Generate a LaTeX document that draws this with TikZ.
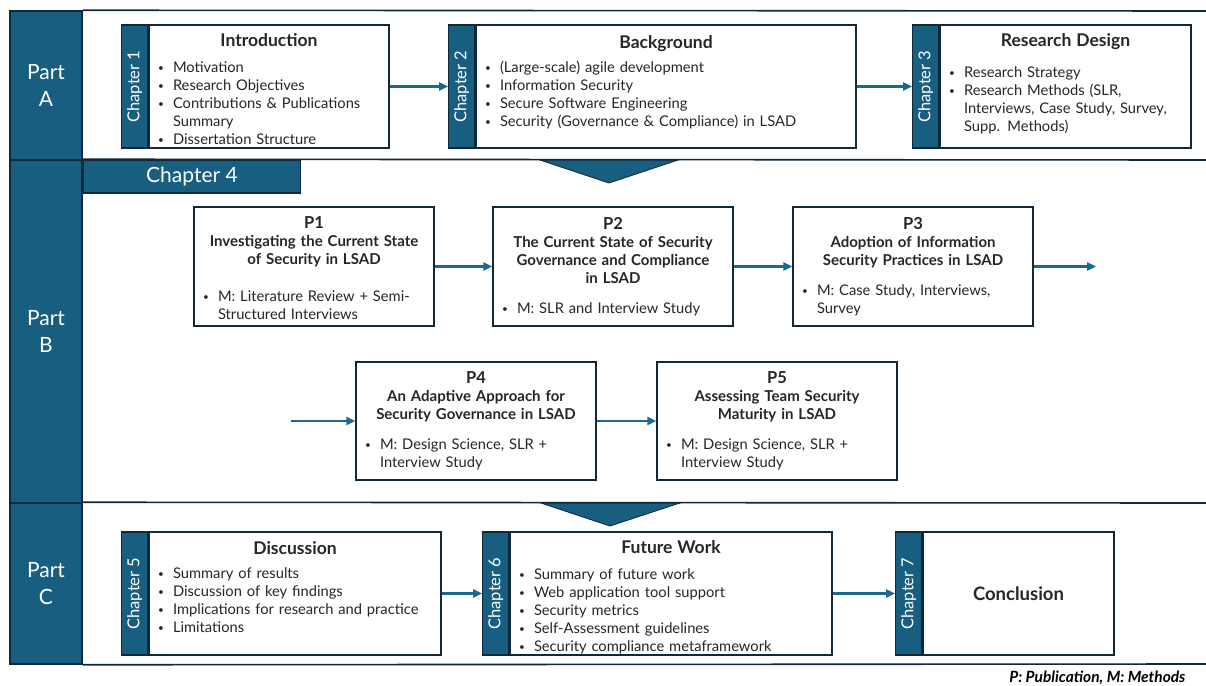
\documentclass[tikz,border=0pt]{standalone}
\usepackage{fontspec}
\setmainfont{Lato}
\usetikzlibrary{arrows.meta,positioning,calc}
\definecolor{partblue}{RGB}{24,94,128}
\definecolor{arrblue}{RGB}{28,104,142}
\definecolor{navy}{RGB}{16,40,56}
\definecolor{txtgray}{RGB}{38,38,38}

\newcommand{\fs}[2]{\fontsize{#1}{#2}\selectfont}
\newcommand{\boxtitle}[1]{{\centering\fs{17.5}{20}\bfseries #1\par}\vspace{6pt}}
\newcommand{\ptitle}[2]{{\centering\bfseries{\fs{16.5}{21}#1\par}\fs{15}{18}#2\par}\vspace{12pt}}
\newenvironment{blist}{\begin{list}{\raisebox{1pt}{\fs{10}{10}\textbullet}}{%
  \setlength{\leftmargin}{15pt}\setlength{\labelwidth}{15pt}\setlength{\labelsep}{0pt}%
  \setlength{\itemsep}{0pt}\setlength{\parsep}{0pt}\setlength{\topsep}{0pt}%
  \setlength{\partopsep}{0pt}\setlength{\itemindent}{0pt}%
  \renewcommand{\makelabel}[1]{##1\hfil}}\raggedright}{\end{list}}

\tikzset{
  partcol/.style={draw=navy, line width=1.5pt, fill=partblue, text=white, align=center, inner sep=0pt, font=\fs{21}{27}},
  tab/.style={draw=navy, line width=1.2pt, fill=partblue, text=white, rotate=90, anchor=south,
    minimum width=123pt, minimum height=26pt, inner sep=0pt, font=\fs{16.5}{18}},
  chbox/.style={draw=navy, line width=1.2pt, fill=white, text=txtgray, minimum height=123pt,
    inner xsep=9pt, inner ysep=2pt, align=left, font=\fs{14.7}{18}},
  pbox/.style={draw=navy, line width=1.2pt, fill=white, text=txtgray, minimum height=119pt,
    text width=222pt, inner xsep=9pt, inner ysep=2pt, align=left, font=\fs{14.7}{18}},
  arr/.style={-{Triangle[length=9pt,width=8pt]}, line width=2.4pt, arrblue},
  frame/.style={navy, line width=1.6pt},
  chevron/.style={fill=partblue, draw=navy, line width=0.8pt},
}

\begin{document}
\begin{tikzpicture}[x=1pt,y=-1pt]
\useasboundingbox (0,0) rectangle (1206,685);

% chevrons between the parts
\filldraw[chevron] (540,160) -- (678,160) -- (609,183) -- cycle;
\filldraw[chevron] (541,503) -- (680,503) -- (610,526) -- cycle;

% part column
\node[partcol, minimum width=72pt, minimum height=149pt] (partA) at (46,85.5) {Part\\A};
\node[partcol, minimum width=72pt, minimum height=343pt] (partB) at (46,331.5) {Part\\B};
\node[partcol, minimum width=72pt, minimum height=161pt] (partC) at (46,583.5) {Part\\C};

\draw[frame] (partA.north east) -- (1206,11);
\draw[frame] (partB.north east) -- (1206,160);
\draw[frame] (partC.north east) -- (1206,503);
\draw[frame] (partC.south east) -- (1206,664);

% Part A
\node[chbox, text width=222pt] (ch1) at (269,86.5) {\boxtitle{Introduction}\vspace{2pt}
  \begin{blist}
  \item Motivation
  \item Research Objectives
  \item Contributions \& Publications Summary
  \item Dissertation Structure
  \end{blist}\par\vspace{-6pt}};
\node[tab] (t1) at (ch1.west) {Chapter 1};

\node[chbox, text width=362pt] (ch2) at (666,86.5) {\boxtitle{Background}
  \begin{blist}
  \item (Large-scale) agile development
  \item Information Security
  \item Secure Software Engineering
  \item Security (Governance \& Compliance) in LSAD
  \end{blist}\par\vspace{8pt}};
\node[tab] (t2) at (ch2.west) {Chapter 2};

\node[chbox, text width=233pt] (ch3) at (1065.5,86.5) {\boxtitle{Research Design}\vspace{7pt}
  \begin{blist}
  \item Research Strategy
  \item Research Methods (SLR,\newline Interviews, Case Study, Survey,\newline Supp. Methods)
  \end{blist}\par\vspace{6pt}};
\node[tab] (t3) at (ch3.west) {Chapter 3};

\draw[arr] (ch1.east) -- (t2.north);
\draw[arr] (ch2.east) -- (t3.north);

% Part B
\node[partcol, anchor=north west, minimum width=217pt, minimum height=33pt] (ch4) at (partB.north east) {Chapter 4};

\node[pbox] (p1) at (314,266.5) {\ptitle{P1}{Investigating the Current State\\of Security in LSAD}\vspace{7pt}
  \begin{blist}\item M: Literature Review + Semi-\newline Structured Interviews\end{blist}\par\vspace{-4pt}};
\node[pbox] (p2) at (613,266.5) {\ptitle{P2}{The Current State of Security\\Governance and Compliance\\in LSAD}
  \begin{blist}\item M: SLR and Interview Study\end{blist}};
\node[pbox] (p3) at (913,266.5) {\ptitle{P3}{Adoption of Information\\Security Practices in LSAD}
  \begin{blist}\item M: Case Study, Interviews,\newline Survey\end{blist}};
\node[pbox, minimum height=118pt] (p4) at (476,421) {\ptitle{P4}{An Adaptive Approach for\\Security Governance in LSAD}
  \begin{blist}\item M: Design Science, SLR +\newline Interview Study\end{blist}};
\node[pbox, minimum height=118pt] (p5) at (777,421) {\ptitle{P5}{Assessing Team Security\\Maturity in LSAD}
  \begin{blist}\item M: Design Science, SLR +\newline Interview Study\end{blist}};

\coordinate (p3out) at (1096,266.5);
\coordinate (p4in) at (291,421);
\draw[arr] (p1) -- (p2);
\draw[arr] (p2) -- (p3);
\draw[arr] (p3.east) -- (p3out);
\draw[arr] (p4in) -- (p4.west);
\draw[arr] (p4) -- (p5);

% Part C
\node[chbox, text width=274pt] (ch5) at (295,593.5) {\boxtitle{Discussion}
  \begin{blist}
  \item Summary of results
  \item Discussion of key findings
  \item Implications for research and practice
  \item Limitations
  \end{blist}\par\vspace{13pt}};
\node[tab] (t5) at (ch5.west) {Chapter 5};

\node[chbox, text width=304pt] (ch6) at (671,593.5) {\boxtitle{Future Work}\vspace{2pt}
  \begin{blist}
  \item Summary of future work
  \item Web application tool support
  \item Security metrics
  \item Self-Assessment guidelines
  \item Security compliance metaframework
  \end{blist}\par\vspace{-8pt}};
\node[tab] (t6) at (ch6.west) {Chapter 6};

\node[chbox, text width=173pt, align=center, font=\fs{18.5}{22}\bfseries] (ch7) at (1018.5,593.5) {Conclusion};
\node[tab] (t7) at (ch7.west) {Chapter 7};

\draw[arr] (ch5.east) -- (t6.north);
\draw[arr] (ch6.east) -- (t7.north);

\node[anchor=east, font=\fs{15.5}{18}\bfseries\itshape] (legend) at (1189,678) {P: Publication, M: Methods};
\end{tikzpicture}
\end{document}
